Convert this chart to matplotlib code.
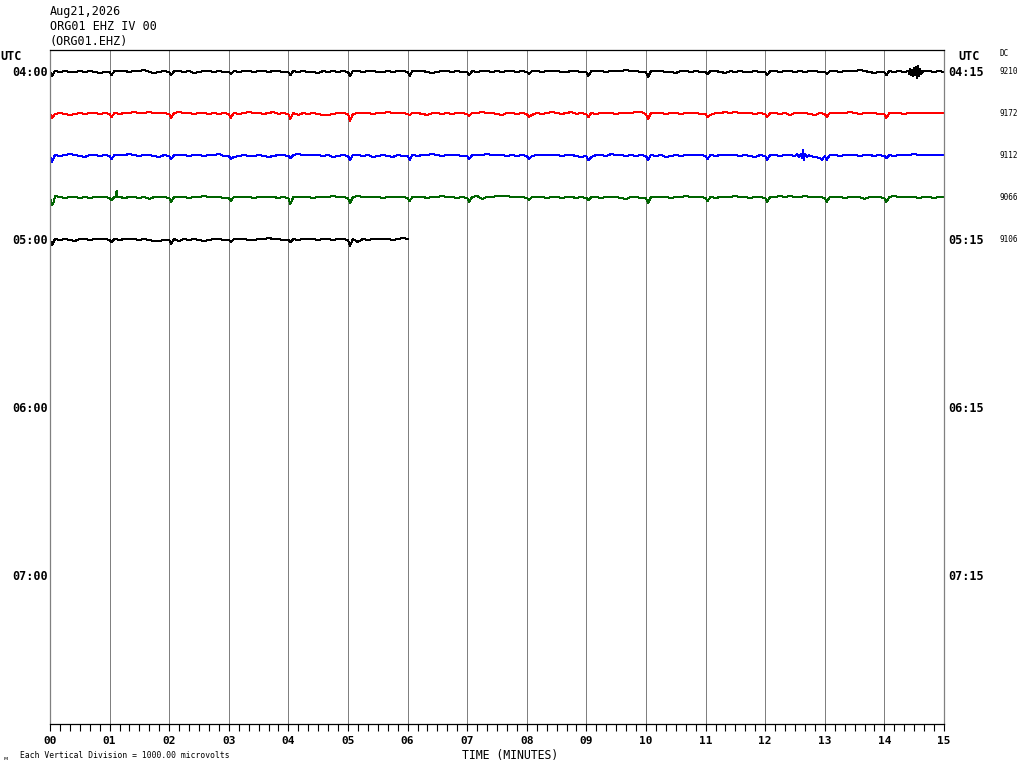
import matplotlib
matplotlib.use("Agg")
import matplotlib.pyplot as plt
from matplotlib.ticker import MultipleLocator

W, H = 1024, 768

station_lines = ["Aug21,2026", "ORG01 EHZ IV 00", "(ORG01.EHZ)"]
left_hours = ["04:00", "05:00", "06:00", "07:00"]
right_hours = ["04:15", "05:15", "06:15", "07:15"]
dc_values = ["9210", "9172", "9112", "9066", "9106"]
minute_labels = ["%02d" % m for m in range(16)]
trace_colors = ["#000000", "#ff0000", "#0000ff", "#006400"]
n_rows = 16

# trace offsets in screen pixels (up = positive), one value every 5 s
row0_base = [
    0, 1, 0, 1, 0, 0, 1, 0, 1, 0, -1, 0,
    0, 1, 1, 1, 0, 1, 1, 2, 0, -1, 0, 1,
    0, 1, 1, 0, 1, -1, 0, 1, 1, 0, 1, 0,
    0, 1, 0, 1, 1, 0, 1, 1, 0, 1, 1, 0,
    0, 1, 0, 1, 0, 0, -1, 1, 0, 1, 0, 1,
    0, 1, 1, 0, 1, 1, 0, 0, 1, 0, 1, 1,
    0, 1, 1, 1, 0, -1, 0, 1, 1, 0, 1, 0,
    0, 1, 0, 1, 1, 0, 1, 0, 1, 1, 0, 1,
    0, 1, 1, 0, 1, 1, 1, 0, 0, 1, 1, 0,
    0, 1, 1, 1, 0, 1, 1, 1, 2, 1, 1, 0,
    0, 1, 1, 1, 0, 0, -1, 1, 1, 0, 1, 0,
    0, 1, 1, 0, -1, 1, 0, 1, 0, 0, 1, 0,
    0, 1, 1, 0, 1, 1, 0, 1, 0, 1, 1, 0,
    0, 1, 1, 0, 1, 1, 1, 2, 1, 0, -1, 0,
    0, 1, 0, 1, 0, 0, 0, 0, 1, 1, 0, 1,
    0,
]
row1_base = [
    0, 0, 1, 0, -1, 0, 1, 0, 1, 1, 0, 1,
    0, 1, 0, 1, 1, 2, 1, 1, 2, 1, 1, 1,
    0, 1, 2, 1, 1, 0, 1, 1, 0, 1, 0, 1,
    0, 1, 0, 1, 2, 1, 1, 0, 1, 2, 0, 1,
    0, 1, -1, 1, 0, 1, 0, -1, -1, 0, 1, 1,
    0, 0, 1, 1, 1, 0, 1, 1, 2, 1, 1, 1,
    0, 1, 1, 0, -1, 1, 1, 0, 1, 0, 1, 1,
    0, 1, 1, 2, 1, 1, 0, -1, 1, 1, 0, 1,
    0, -1, 1, 0, 1, 2, 1, 0, 1, 2, 0, 1,
    0, 1, 0, 1, 1, 1, 0, 1, 1, 1, 2, 2,
    0, 1, 1, 1, 0, 1, 1, 0, 1, 1, 1, 0,
    0, -1, 1, 1, 2, 1, 2, 1, 1, 1, 0, 1,
    0, 1, 1, 0, 1, -1, 1, 1, 1, 0, -1, 1,
    0, 1, 1, 1, 1, 2, 1, 0, 1, 1, 1, 0,
    0, 1, 1, 1, 0, 1, 1, 1, 1, 1, 1, 1,
    1,
]
row2_base = [
    0, 1, 0, 1, 2, 1, 0, -1, 1, 1, 0, 1,
    0, 1, 1, 1, 2, 1, 0, 1, 1, 0, -1, 1,
    0, 1, 1, 1, 0, 1, 1, 0, 1, 1, 2, 0,
    0, -1, 0, 1, 0, 0, 1, 0, -1, 0, 1, 1,
    0, 1, 2, 1, 1, 1, 1, 0, 1, -1, 0, 1,
    0, 1, 1, 0, 1, -1, 0, 1, 0, -1, 1, 0,
    0, 1, 0, 1, 1, 2, 1, 0, 1, 1, 1, 0,
    0, 1, 1, 1, 2, 1, 1, 1, 0, 1, 0, 1,
    0, 0, 1, 1, 1, 1, 1, 0, 1, 1, 0, -1,
    0, -1, 1, 1, 0, 2, 1, 1, 0, 1, 0, 1,
    0, 1, 0, 1, -1, 0, 1, 0, 1, 1, 1, 1,
    0, 1, 0, 1, 1, 1, 1, 0, 1, 0, -1, 1,
    0, 1, 1, 0, 1, 1, 0, 1, 1, 0, -1, -2,
    0, 1, 1, 0, 1, 1, 1, 0, 1, 1, 0, 1,
    0, 1, 0, 1, 1, 1, 2, 1, 1, 1, 1, 1,
    1,
]
row3_base = [
    0, 2, 1, 0, 1, 1, 0, 1, 0, 1, 1, 1,
    0, 1, 1, 0, 1, 1, 0, 1, -1, 1, 1, 1,
    0, 1, 1, 1, 0, 1, 1, 2, 1, 1, 1, 0,
    0, 1, 1, 1, 1, 0, 1, 1, 1, 1, 0, 1,
    0, 1, 1, 1, 1, 0, 1, 1, 1, 2, 1, 1,
    0, 1, 2, 1, 1, 1, 1, 0, 1, 1, 1, 1,
    0, 1, 1, 1, 0, 1, 1, 2, 1, 1, 0, 1,
    0, 1, 2, -1, 1, 1, 2, 2, 2, 1, 1, 1,
    0, 1, 1, 1, 0, 1, 1, 0, 1, 1, 0, 1,
    0, 1, 1, 0, 1, 1, 1, 0, -1, 1, 1, 0,
    0, 1, 1, 1, 1, 0, 1, 1, 2, 1, 1, 1,
    0, 1, 0, 1, 1, 1, 2, 1, 1, 0, 1, 1,
    0, 1, 1, 2, 1, 2, 1, 1, 2, 1, 1, 1,
    0, 1, 1, 1, 0, 1, 1, 1, -1, 1, 1, 1,
    0, 1, 2, 1, 1, 1, 1, 0, 1, 1, 0, 1,
    1,
]
row4_base = [
    0, 1, 0, 1, 0, -1, 1, 1, 0, 1, 1, 1,
    0, 1, 0, 1, 1, 1, 0, 1, 0, -1, -1, 0,
    0, 1, -1, 1, 0, 1, 0, -1, 0, 1, 1, 0,
    0, 1, 1, 1, 0, 0, 1, 1, 2, 1, 1, 0,
    0, 1, 0, 1, 1, 1, 0, 1, 1, 0, 1, 1,
    0, 1, -2, 1, 0, 1, 1, 1, 1, 0, 1, 2,
    1,
]

# dip just after each minute mark (pixels)
row0_dips = [-4, -3, -3, -2, -3, -4, -4, -3, -2, -4, -5, -2, -3, -2, -3]
row1_dips = [-4, -3, -4, -4, -5, -7, -1, -2, -3, -3, -5, -3, -3, -3, -4]
row2_dips = [-6, -3, -3, -3, -2, -4, -4, -3, -3, -4, -4, -3, -4, -4, -2]
row3_dips = [-7, -2, -4, -3, -6, -5, -3, -4, -2, -2, -5, -3, -4, -4, -4]
row4_dips = [-5, -2, -4, -2, -2, -6]

# other events: (seconds, pixels)
row0_event_t = [864, 865, 866, 867, 868, 869, 870, 871, 872, 873, 874, 875, 876, 877, 878, 879]
row0_event_v = [1, -2, 3, -3, 2, -4, 4, -3, 5, -6, 6, -4, 3, -2, 1, 0]
row2_event_t = [752, 754, 756, 757, 758, 759, 760, 762, 764, 777]
row2_event_v = [2, -1, 2, -2, 6, -4, 2, -1, 1, -4]
row3_event_t = [4, 66, 67, 68]
row3_event_v = [-4, 1, 7, 1]

traces = [
    (row0_base, row0_dips, row0_event_t, row0_event_v),
    (row1_base, row1_dips, [], []),
    (row2_base, row2_dips, row2_event_t, row2_event_v),
    (row3_base, row3_dips, row3_event_t, row3_event_v),
    (row4_base, row4_dips, [], []),
]


def build_trace(base, dips, ev_t, ev_v):
    pts = dict(zip(range(0, 5 * len(base), 5), base))
    pts.update({60 * m + 2: d for m, d in enumerate(dips)})
    pts.update(zip(ev_t, ev_v))
    t = sorted(pts)
    return [s / 60.0 for s in t], [pts[s] for s in t]


fig = plt.figure(figsize=(W / 100, H / 100), dpi=100)
ax = fig.add_axes([50 / W, 1 - 724 / H, 894 / W, 674 / H])

row_px = 42.0
ax.set_xlim(0, 15)
ax.set_ylim(15 + 22 / row_px, -22 / row_px)

for i, (base, dips, ev_t, ev_v) in enumerate(traces):
    x, v = build_trace(base, dips, ev_t, ev_v)
    y = [i - p / row_px for p in v]
    ax.plot(x, y, color=trace_colors[i % 4], lw=0.72, antialiased=False)

for m in range(1, 15):
    ax.axvline(m, color="#808080", lw=0.72, zorder=0, antialiased=False)

ax.spines["left"].set_color("#808080")
ax.spines["right"].set_color("#808080")
for side in ["left", "right", "top", "bottom"]:
    ax.spines[side].set_linewidth(0.9)

ax.xaxis.set_major_locator(MultipleLocator(1))
ax.xaxis.set_minor_locator(MultipleLocator(1 / 6))
ax.tick_params(axis="x", which="both", direction="out", length=5, width=0.8,
               color="black", pad=4)
ax.set_xticks(range(16))
ax.set_xticklabels(minute_labels, fontfamily="DejaVu Sans Mono",
                   fontweight="bold", fontsize=8)
ax.set_yticks([])

mono = "DejaVu Sans Mono"


def ftext(x, y, s, **kw):
    fig.text(x / W, 1 - y / H, s, fontfamily=mono, **kw)


for k, line in enumerate(station_lines):
    ftext(50, 11 + 15 * k, line, fontsize=8.5, va="center", ha="left")

ftext(0, 57, "UTC", fontsize=8.5, fontweight="bold", va="center", ha="left")
ftext(958, 57, "UTC", fontsize=8.5, fontweight="bold", va="center", ha="left")
ftext(1000, 54, "DC", fontsize=5.5, va="center", ha="left")

for k in range(4):
    yy = 72 + 4 * k * row_px
    ftext(48, yy, left_hours[k], fontsize=8.5, fontweight="bold", va="center", ha="right")
    ftext(948, yy, right_hours[k], fontsize=8.5, fontweight="bold", va="center", ha="left")

for k, dc in enumerate(dc_values):
    ftext(1000, 72 + k * row_px, dc, fontsize=5.5, va="center", ha="left")

ftext(510, 755, "TIME (MINUTES)", fontsize=8.3, va="center", ha="center")
ftext(20, 755, "Each Vertical Division = 1000.00 microvolts", fontsize=5.8,
      va="center", ha="left")
fig.text(3 / W, 1 - 758 / H, "\u043c", fontsize=4, va="center", ha="left")

fig.savefig("out.png", dpi=100)
